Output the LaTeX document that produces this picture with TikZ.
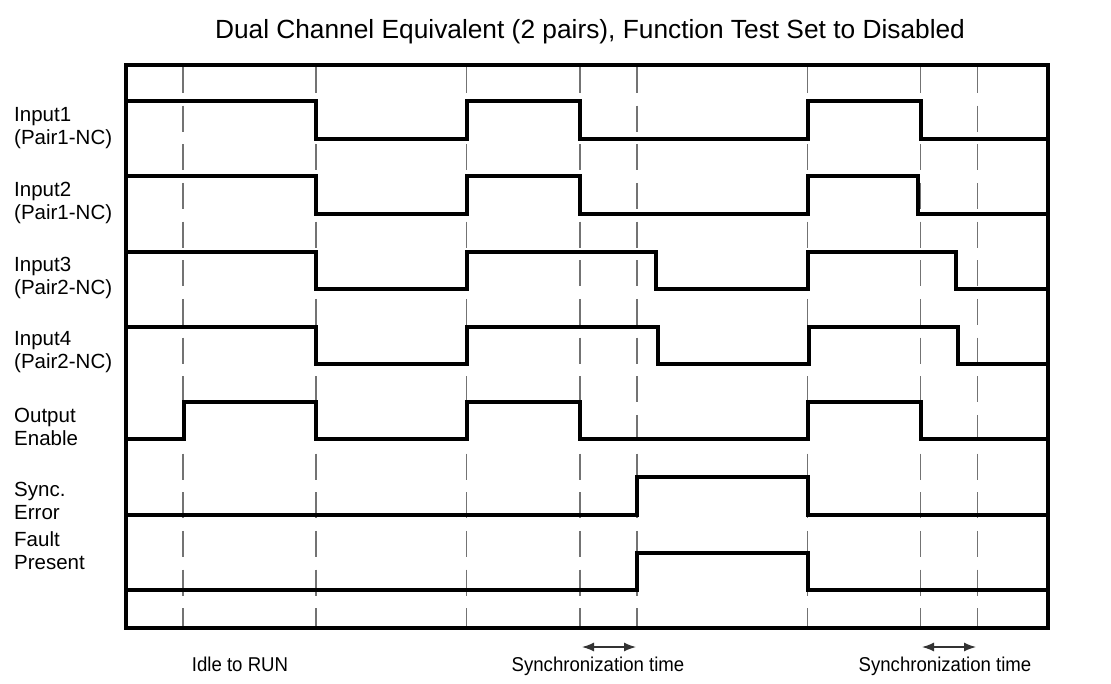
\documentclass[tikz,border=0pt]{standalone}
\usepackage{fontspec}
\setmainfont{Liberation Sans}
\usetikzlibrary{arrows.meta}
\begin{document}
\begin{tikzpicture}[x=1pt,y=-1pt,
  sig/.style={line width=4pt, line join=miter, line cap=rect},
  gridline/.style={black!55, line width=1.1pt, dash pattern=on 26pt off 12.66pt},
  frameline/.style={line width=4.3pt},
  lbl/.style={anchor=west, align=left, inner sep=0pt, font=\fontsize{20.5}{23}\selectfont},
  bot/.style={anchor=base, inner sep=0pt, font=\fontsize{20}{23}\selectfont},
  sync/.style={{Latex[length=12pt,width=9pt]}-{Latex[length=12pt,width=9pt]}, line width=1.3pt, black!80}]
\useasboundingbox (0,0) rectangle (1111,683);
% title
\node[inner sep=0pt, font=\fontsize{26.3}{30}\selectfont] (title) at (590,32) {Dual Channel Equivalent (2 pairs), Function Test Set to Disabled};
% dashed time markers
\foreach \x in {183,316,466.5,580,637,807.5,920.5,977.5}
  \draw[gridline] (\x,67) -- (\x,627);
% signals
\draw[sig] (126,101) -| (316,138.5) -| (466.5,101) -| (580,138.5) -| (807.5,101) -| (920.5,138.5) -- (1048,138.5);
\draw[sig] (126,176) -| (316,213.5) -| (466.5,176) -| (580,213.5) -| (807.5,176) -| (918,213.5) -- (1048,213.5);
\draw[sig] (126,251.5) -| (316,289) -| (466.5,251.5) -| (656,289) -| (807.5,251.5) -| (956,289) -- (1048,289);
\draw[sig] (126,327) -| (316,364) -| (466.5,327) -| (658,364) -| (808.5,327) -| (958,364) -- (1048,364);
\draw[sig] (126,439) -| (184,402) -| (316,439) -| (466.5,402) -| (580,439) -| (807.5,402) -| (921,439) -- (1048,439);
\draw[sig] (126,515) -| (637,477) -| (807.5,515) -- (1048,515);
\draw[sig] (126,590) -| (637,553) -| (807.5,590) -- (1048,590);
% frame
\draw[frameline] (126,65) rectangle (1048,628);
% labels
\node[lbl] (l1) at (14,128) {Input1\\(Pair1-NC)};
\node[lbl] (l2) at (14,203) {Input2\\(Pair1-NC)};
\node[lbl] (l3) at (14,278) {Input3\\(Pair2-NC)};
\node[lbl] (l4) at (14,352) {Input4\\(Pair2-NC)};
\node[lbl] (l5) at (14,427) {Output\\Enable};
\node[lbl] (l6) at (14,501) {Sync.\\Error};
\node[lbl] (l7) at (14,551) {Fault\\Present};
% sync time arrows
\coordinate (a1) at (582,647);
\coordinate (b1) at (636,647);
\coordinate (a2) at (922,647);
\coordinate (b2) at (976,647);
\draw[sync] (a1) -- (b1);
\draw[sync] (a2) -- (b2);
% bottom labels
\node[bot] (idle) at (240,671) {\scalebox{0.93}[1]{Idle to RUN}};
\node[bot] (st1) at (598,671) {\scalebox{0.93}[1]{Synchronization time}};
\node[bot] (st2) at (945,671) {\scalebox{0.93}[1]{Synchronization time}};
\end{tikzpicture}
\end{document}
